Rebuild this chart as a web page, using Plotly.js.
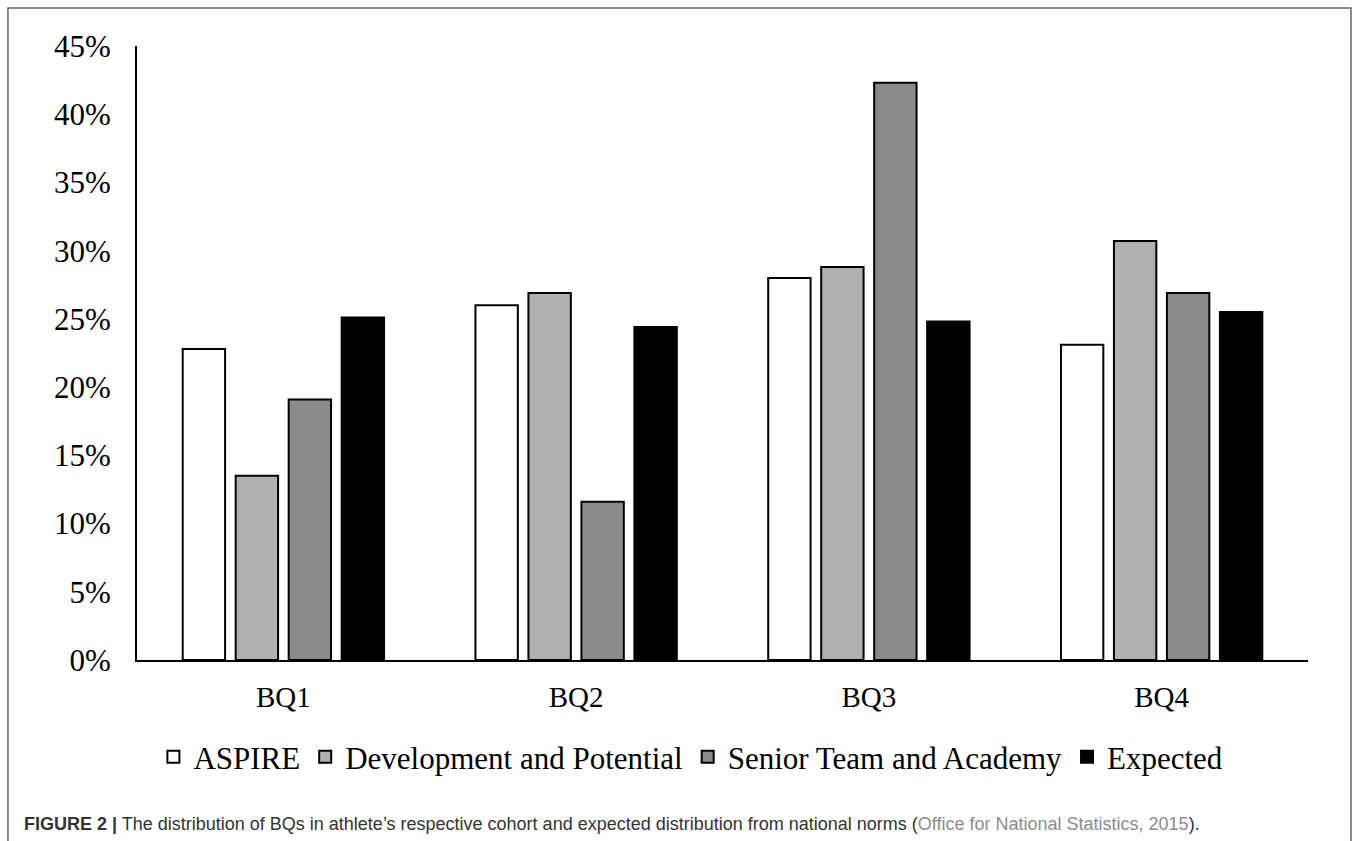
<!DOCTYPE html>
<html>
<head>
<meta charset="utf-8">
<script src="https://cdn.plot.ly/plotly-3.0.1.min.js"></script>
<style>
  html, body { margin: 0; padding: 0; background: #ffffff; }
  #chart { width: 1358px; height: 841px; }
</style>
</head>
<body>
<div id="chart"></div>
<script>
// Categories (birth quartiles)
const categories = ["BQ1", "BQ2", "BQ3", "BQ4"];

// Series values (percent)
const aspire = [22.8, 26.0, 28.0, 23.1];
const development = [13.5, 26.9, 28.8, 30.7];
const seniorAcademy = [19.1, 11.6, 42.3, 26.9];
const expected = [25.1, 24.4, 24.8, 25.5];

// Series names
const seriesNames = ["ASPIRE", "Development and Potential", "Senior Team and Academy", "Expected"];

// Y tick labels
const yTickValues = [0, 5, 10, 15, 20, 25, 30, 35, 40, 45];
const yTickLabels = ["0%", "5%", "10%", "15%", "20%", "25%", "30%", "35%", "40%", "45%"];

const fills = ["#ffffff", "#b0b0b0", "#8a8a8a", "#000000"];
const seriesValues = [aspire, development, seniorAcademy, expected];

const traces = seriesValues.map((vals, i) => ({
  type: "bar",
  name: seriesNames[i],
  x: categories,
  y: vals,
  marker: { color: fills[i], line: { color: "#000000", width: 2 } },
  hoverinfo: "x+y+name"
}));

const serif = "Liberation Serif, Times New Roman, serif";

const layout = {
  width: 1358,
  height: 841,
  paper_bgcolor: "#ffffff",
  plot_bgcolor: "#ffffff",
  margin: { l: 137, r: 50, t: 46, b: 181 },
  barmode: "group",
  bargap: 0.276,
  bargroupgap: 0.2,
  showlegend: true,
  legend: {
    orientation: "h",
    x: 0.473,
    xanchor: "center",
    y: -0.158,
    yanchor: "middle",
    font: { family: serif, size: 31, color: "#000000" },
    itemclick: false,
    traceorder: "normal"
  },
  xaxis: {
    type: "category",
    showline: true,
    linecolor: "#000000",
    linewidth: 2,
    showgrid: false,
    zeroline: false,
    ticks: "",
    ticklabelstandoff: 10,
    tickfont: { family: serif, size: 29, color: "#000000" }
  },
  yaxis: {
    range: [0, 45],
    showline: true,
    linecolor: "#000000",
    linewidth: 2,
    showgrid: false,
    zeroline: false,
    ticks: "",
    tickmode: "array",
    tickvals: yTickValues,
    ticktext: yTickLabels,
    ticklabelstandoff: 18,
    tickfont: { family: serif, size: 31, color: "#000000" }
  },
  shapes: [
    {
      type: "rect",
      xref: "paper", yref: "paper",
      x0: -0.1102, x1: 1.0367,
      y0: -0.31, y1: 1.0619,
      line: { color: "#666666", width: 1.5 },
      fillcolor: "rgba(0,0,0,0)",
      layer: "below"
    }
  ],
  annotations: [
    {
      xref: "paper", yref: "paper",
      x: -0.0985, y: -0.267,
      xanchor: "left", yanchor: "middle",
      showarrow: false,
      align: "left",
      font: { family: "Liberation Sans, Arial, sans-serif", size: 18, color: "#333333" },
      text: "<b>FIGURE 2 |</b> The distribution of BQs in athlete’s respective cohort and expected distribution from national norms (<span style=\"color:#8c8c8c\">Office for National Statistics, 2015</span>)."
    }
  ]
};

Plotly.newPlot("chart", traces, layout, { displayModeBar: false });
</script>
</body>
</html>
